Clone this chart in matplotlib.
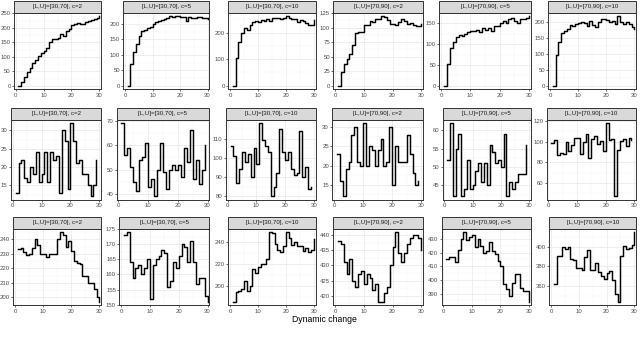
import matplotlib.pyplot as plt
from matplotlib.ticker import AutoMinorLocator
from matplotlib.patches import Rectangle

plt.rcParams['font.family'] = ['Liberation Sans', 'DejaVu Sans']

# facet titles (same order in every row)
titles = ["[L,U]=[30,70], c=2", "[L,U]=[30,70], c=5", "[L,U]=[30,70], c=10",
          "[L,U]=[70,90], c=2", "[L,U]=[70,90], c=5", "[L,U]=[70,90], c=10"]

steps30 = list(range(1, 31))
steps29 = list(range(1, 30))

# row 1
top_a = [0, 12, 30, 46, 61, 79, 90, 104, 113, 119, 131, 150, 162, 162, 165,
         179, 171, 189, 197, 209, 214, 218, 215, 214, 220, 223, 227, 231, 235, 241]
top_b = [0, 70, 108, 135, 160, 178, 180, 185, 190, 200, 205, 208, 212, 216, 220,
         225, 222, 225, 224, 223, 222, 208, 222, 220, 220, 222, 222, 220, 218, 215]
top_c = [0, 105, 165, 200, 218, 210, 230, 240, 245, 240, 248, 245, 250, 245, 255,
         255, 253, 252, 255, 262, 255, 250, 252, 240, 248, 245, 235, 228, 228, 248]
top_d = [0, 23, 38, 46, 55, 70, 90, 93, 93, 104, 104, 111, 110, 114, 114,
         120, 118, 113, 106, 106, 105, 110, 115, 112, 107, 108, 104, 102, 103, 106]
top_e = [0, 52, 92, 105, 117, 122, 120, 125, 130, 132, 132, 135, 130, 138, 135,
         140, 133, 145, 145, 152, 155, 150, 160, 162, 155, 150, 160, 160, 162, 168]
top_f = [0, 98, 138, 165, 172, 180, 192, 188, 195, 198, 200, 198, 190, 205, 192,
         185, 200, 212, 210, 208, 200, 205, 195, 220, 200, 195, 200, 195, 185, 178]

# row 2
mid_a = [13, 21, 22, 17, 16, 20, 18, 24, 16, 18, 24, 16, 24, 22, 23,
         13, 30, 27, 14, 32, 27, 21, 22, 18, 18, 15, 12, 15, 22]
mid_b = [69, 56, 59, 51, 45, 41, 54, 55, 61, 43, 46, 39, 50, 61, 49,
         42, 50, 52, 50, 52, 47, 59, 53, 66, 46, 54, 44, 50, 60]
mid_c = [106, 101, 87, 94, 103, 98, 102, 90, 105, 97, 118, 109, 106, 103, 80,
         85, 92, 115, 103, 99, 103, 94, 91, 92, 114, 90, 95, 84, 85]
mid_d = [23, 16, 12, 19, 21, 28, 30, 21, 20, 31, 20, 25, 24, 20, 24,
         27, 20, 21, 30, 15, 25, 21, 21, 21, 28, 23, 18, 15, 16]
mid_e = [52, 62, 42, 55, 59, 42, 44, 52, 44, 45, 49, 51, 46, 51, 45,
         56, 54, 51, 52, 50, 59, 42, 46, 44, 46, 48, 48, 48, 56]
mid_f = [99, 102, 87, 89, 88, 100, 91, 97, 104, 104, 88, 100, 107, 84, 103,
         106, 98, 101, 91, 118, 102, 103, 47, 92, 101, 103, 96, 104, 102]

# row 3
bot_a = [233, 234, 231, 229, 230, 234, 240, 236, 230, 230, 228, 230, 230, 230, 240,
         245, 243, 235, 239, 232, 225, 224, 223, 215, 215, 210, 210, 206, 200, 197]
bot_b = [173, 174, 164, 159, 162, 163, 160, 162, 165, 152, 163, 165, 166, 168, 167,
         156, 158, 164, 162, 166, 170, 169, 164, 171, 164, 157, 159, 159, 153, 151]
bot_c = [186, 195, 196, 198, 205, 196, 200, 216, 212, 217, 220, 220, 225, 249, 248,
         238, 233, 231, 236, 249, 244, 237, 240, 236, 236, 232, 235, 231, 233, 243]
bot_d = [438, 437, 431, 427, 432, 425, 423, 427, 428, 424, 427, 426, 422, 424, 418,
         418, 421, 423, 430, 436, 441, 434, 431, 434, 437, 439, 440, 440, 439, 435]
bot_e = [415, 417, 417, 413, 422, 430, 435, 429, 431, 433, 424, 430, 425, 420, 421,
         428, 421, 419, 414, 410, 397, 393, 388, 398, 404, 404, 394, 392, 392, 384]
bot_f = [362, 391, 391, 400, 398, 400, 388, 387, 378, 378, 376, 390, 397, 376, 376,
         383, 374, 370, 367, 373, 375, 366, 352, 344, 391, 401, 398, 399, 402, 415]

rows = [[top_a, top_b, top_c, top_d, top_e, top_f],
        [mid_a, mid_b, mid_c, mid_d, mid_e, mid_f],
        [bot_a, bot_b, bot_c, bot_d, bot_e, bot_f]]
row_x = [steps30, steps29, steps30]

yticks = [[[0, 50, 100, 150, 200, 250], [0, 50, 100, 150, 200], [0, 100, 200],
           [0, 25, 50, 75, 100, 125], [0, 50, 100, 150], [0, 50, 100, 150, 200]],
          [[15, 20, 25, 30], [40, 50, 60, 70], [80, 90, 100, 110],
           [15, 20, 25, 30], [45, 50, 55, 60], [60, 80, 100, 120]],
          [[200, 210, 220, 230, 240], [150, 155, 160, 165, 170, 175], [200, 220, 240],
           [420, 425, 430, 435, 440], [390, 400, 410, 420, 430], [360, 380, 400]]]
xticks = [0, 10, 20, 30]

# layout in pixels
W, H = 640, 339
strip_top = [1, 108, 217]
strip_h = 11.5
panel_bottom = [89.3, 200, 305.3]
lefts = [[14, 123.3, 228.3, 333.3, 439.3, 548.3],
         [11, 116.7, 226, 332.3, 442.7, 546.7],
         [13.3, 119.3, 228.3, 333.3, 441.7, 549.3]]
rights = [101, 209.3, 315.5, 423, 530.7, 636]

fig = plt.figure(figsize=(W / 100, H / 100), dpi=100)

for r in range(3):
    top = strip_top[r] + strip_h
    ph = panel_bottom[r] - top
    for c in range(6):
        l = lefts[r][c]
        ax = fig.add_axes([l / W, 1 - panel_bottom[r] / H,
                           (rights[c] - l) / W, ph / H])
        ax.plot(row_x[r], rows[r][c], drawstyle='steps-post', color='black', lw=1.05)
        ax.set_xlim(-0.6, 30.6)
        ax.margins(y=0.05)
        ax.set_xticks(xticks)
        ax.set_yticks(yticks[r][c])
        ax.xaxis.set_minor_locator(AutoMinorLocator(2))
        ax.yaxis.set_minor_locator(AutoMinorLocator(2))
        ax.grid(which='major', color='#EBEBEB', lw=0.6)
        ax.grid(which='minor', color='#F3F3F3', lw=0.35)
        ax.set_axisbelow(True)
        ax.tick_params(which='major', labelsize=4.3, length=1.6, width=0.5,
                       pad=0.8, colors='#333333', labelcolor='#4D4D4D')
        ax.tick_params(which='minor', length=0)
        for s in ax.spines.values():
            s.set_color('#333333')
            s.set_linewidth(0.7)
        rect = Rectangle((0, 1), 1, strip_h / ph, transform=ax.transAxes,
                         facecolor='#D9D9D9', edgecolor='#333333', lw=0.7,
                         clip_on=False)
        ax.add_patch(rect)
        ax.text(0.5, 1 + strip_h / ph / 2, titles[c], transform=ax.transAxes,
                ha='center', va='center', fontsize=4.4, color='#1A1A1A')

fig.text(324 / W, 1 - 319 / H, "Dynamic change", ha='center', va='center',
         fontsize=6.2, color='black')

fig.savefig('out.png', dpi=100)
